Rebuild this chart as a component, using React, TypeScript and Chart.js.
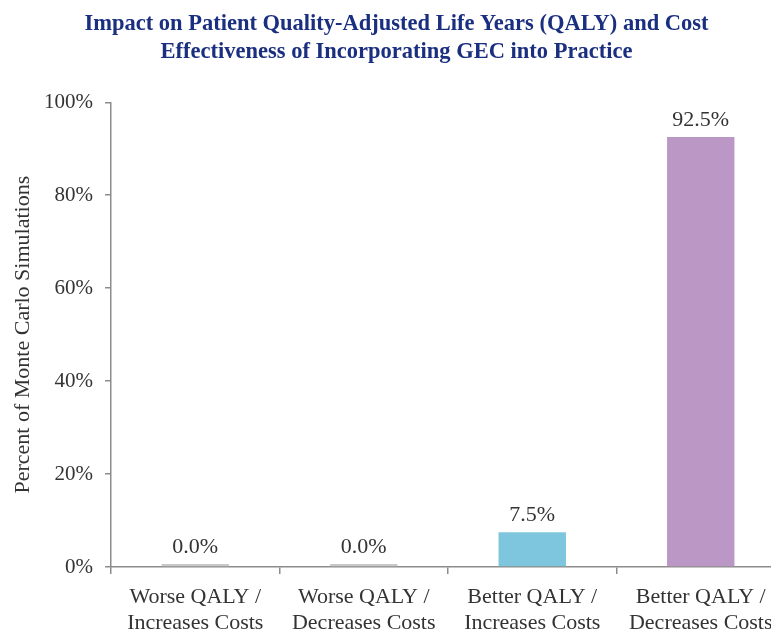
import React, { useEffect, useRef } from "react";
import { Chart, registerables } from "chart.js";

Chart.register(...registerables);

const titleLines = [
  "Impact on Patient Quality-Adjusted Life Years (QALY) and Cost",
  "Effectiveness of Incorporating GEC into Practice",
];
const categories = [
  ["Worse QALY /", "Increases Costs"],
  ["Worse QALY /", "Decreases Costs"],
  ["Better QALY /", "Increases Costs"],
  ["Better QALY /", "Decreases Costs"],
];
const values = [0.0, 0.0, 7.5, 92.5];
const barColors = ["#c8c8c8", "#c8c8c8", "#7ec6de", "#bb97c5"];
const yTicks = [0, 20, 40, 60, 80, 100];
const yAxisTitle = "Percent of Monte Carlo Simulations";

const FONT = "'Liberation Serif', 'Times New Roman', serif";

const valueLabels = {
  id: "valueLabels",
  afterDatasetsDraw(chart: any) {
    const ctx = chart.ctx;
    const meta = chart.getDatasetMeta(0);
    ctx.save();
    ctx.font = `22px ${FONT}`;
    ctx.fillStyle = "#333333";
    ctx.textAlign = "center";
    ctx.textBaseline = "alphabetic";
    meta.data.forEach((bar: any, i: number) => {
      ctx.fillText(values[i].toFixed(1) + "%", bar.x, bar.y - 11);
    });
    ctx.restore();
  },
};

export default function App() {
  const ref = useRef<HTMLCanvasElement>(null);
  useEffect(() => {
    const chart = new Chart(ref.current!, {
      type: "bar",
      data: {
        labels: categories,
        datasets: [
          {
            data: values,
            backgroundColor: barColors,
            barPercentage: 0.4,
            categoryPercentage: 1,
            minBarLength: 3,
          },
        ],
      },
      options: {
        animation: false,
        responsive: false,
        layout: { padding: { left: 0, right: 3, top: 2, bottom: 0 } },
        plugins: {
          legend: { display: false },
          tooltip: { enabled: false },
          title: {
            display: true,
            text: titleLines,
            color: "#1b2f80",
            font: { family: FONT, size: 22.5, weight: "bold", lineHeight: 1.25 },
            padding: { top: 0, bottom: 36 },
          },
        },
        scales: {
          x: {
            offset: true,
            border: { display: true, color: "#8c8c8c", width: 1.5 },
            grid: {
              display: true,
              offset: true,
              drawOnChartArea: false,
              drawTicks: true,
              tickLength: 7,
              color: "#8c8c8c",
              lineWidth: 1.5,
            },
            ticks: {
              color: "#333333",
              font: { family: FONT, size: 22, lineHeight: 1.18 },
              padding: 10,
              maxRotation: 0,
              autoSkip: false,
            },
            afterFit(scale: any) {
              scale.height = 68;
            },
          },
          y: {
            min: 0,
            max: 100,
            border: { display: true, color: "#8c8c8c", width: 1.5 },
            grid: {
              display: true,
              drawOnChartArea: false,
              drawTicks: true,
              tickLength: 6,
              color: "#8c8c8c",
              lineWidth: 1.5,
            },
            afterBuildTicks(scale: any) {
              scale.ticks = yTicks.map((v) => ({ value: v }));
            },
            ticks: {
              color: "#333333",
              font: { family: FONT, size: 21 },
              padding: 12,
              callback: (v: any) => v + "%",
            },
            title: {
              display: true,
              text: yAxisTitle,
              color: "#333333",
              font: { family: FONT, size: 22 },
              padding: { top: 2, bottom: 8 },
            },
            afterFit(scale: any) {
              scale.width = 103;
            },
          },
        },
      },
      plugins: [valueLabels],
    });
    return () => chart.destroy();
  }, []);
  return (
    <div style={{ width: 771, height: 627, overflow: "hidden" }}>
      <canvas ref={ref} width={780} height={627} style={{ display: "block" }} />
    </div>
  );
}
